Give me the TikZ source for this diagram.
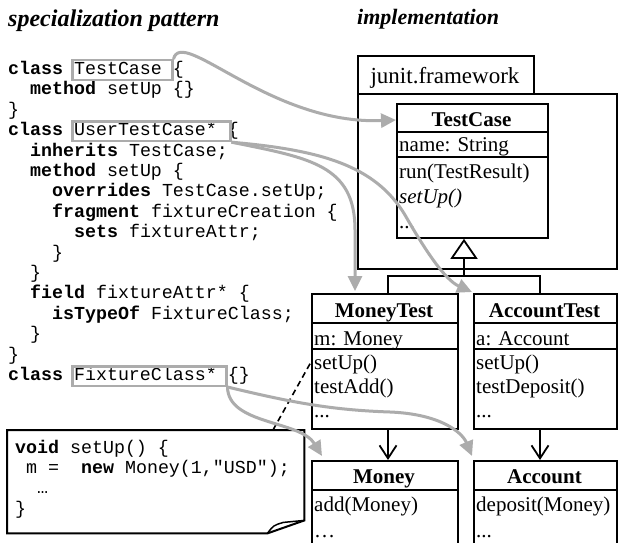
\documentclass[tikz,border=0pt]{standalone}
\usepackage{fontspec}
\setmainfont{Liberation Serif}
\setmonofont{Liberation Mono}
\usetikzlibrary{arrows.meta,calc}
\definecolor{lgray}{RGB}{172,172,172}
\begin{document}
\begin{tikzpicture}[x=1pt,y=-1pt,
  code/.style={anchor=base west,inner sep=0pt,font=\ttfamily\fontsize{18.3}{20}\selectfont},
  ttl/.style={anchor=base west,inner sep=0pt,font=\fontsize{24}{26}\selectfont\bfseries\itshape},
  umlbox/.style={draw,line width=1.8pt,inner sep=0pt,anchor=north west,fill=white},
  umlline/.style={line width=1.8pt},
  ut/.style={inner sep=0pt,anchor=base west,font=\fontsize{21}{23}\selectfont},
  uh/.style={inner sep=0pt,anchor=base,font=\fontsize{21}{23}\selectfont\bfseries},
  gbox/.style={draw=lgray,line width=2.5pt,inner sep=0pt,anchor=north west,minimum height=19.5pt},
  garrow/.style={draw=lgray,line width=3pt,-{Triangle[length=15pt,width=14pt]}},
]
\clip (0,0) rectangle (618,543);
\fill[white] (0,0) rectangle (618,543);

% titles
\node[ttl] (t1) at (8,27) {specialization pattern};
\node[ttl,font=\fontsize{22}{24}\selectfont\bfseries\itshape] (t2) at (357,25) {implementation};

% code
\node[code] (l0) at (8,74.5) {\textbf{class} TestCase \{};
\node[code] (l1) at (30,94.9) {\textbf{method} setUp \{\}};
\node[code] (l2) at (8,115.3) {\}};
\node[code] (l3) at (8,135.7) {\textbf{class} UserTestCase* \{};
\node[code] (l4) at (30,156.1) {\textbf{inherits} TestCase;};
\node[code] (l5) at (30,176.5) {\textbf{method} setUp \{};
\node[code] (l6) at (52,196.9) {\textbf{overrides} TestCase.setUp;};
\node[code] (l7) at (52,217.3) {\textbf{fragment} fixtureCreation \{};
\node[code] (l8) at (74,237.7) {\textbf{sets} fixtureAttr;};
\node[code] (l9) at (52,258.1) {\}};
\node[code] (l10) at (30,278.5) {\}};
\node[code] (l11) at (30,298.9) {\textbf{field} fixtureAttr* \{};
\node[code] (l12) at (52,319.3) {\textbf{isTypeOf} FixtureClass;};
\node[code] (l13) at (30,339.7) {\}};
\node[code] (l14) at (8,360.1) {\}};
\node[code] (l15) at (8,380.5) {\textbf{class} FixtureClass* \{\}};

% gray highlight boxes
\node[gbox,minimum width=100pt] (tcb) at (71,59) {};
\node[gbox,minimum width=158pt] (utcb) at (71,120.2) {};
\node[gbox,minimum width=154pt] (fcb) at (71,365) {};

% package
\node[umlbox,minimum width=176pt,minimum height=38pt] (pkgtab) at (357,55) {};
\node[umlbox,minimum width=259pt,minimum height=175pt] (pkg) at (357,93) {};
\node[inner sep=0pt,anchor=base,font=\fontsize{23}{25}\selectfont] (pkgname) at (445,84) {junit.framework};

% TestCase
\node[umlbox,minimum width=151pt,minimum height=134pt] (tc) at (396,103) {};
\draw[umlline] ($(tc.north west)+(0,29)$) -- ($(tc.north east)+(0,29)$);
\draw[umlline] ($(tc.north west)+(0,54)$) -- ($(tc.north east)+(0,54)$);
\node[uh] (tcn) at (471.5,126) {TestCase};
\node[ut] (tca) at (399,151) {name: String};
\node[ut] (tcm1) at (399,178) {run(TestResult)};
\node[ut] (tcm2) at (399,203) {\itshape setUp()};
\node[ut] (tcm3) at (399,228) {...};

% MoneyTest
\node[umlbox,minimum width=146pt,minimum height=135pt] (mt) at (311,293) {};
\draw[umlline] ($(mt.north west)+(0,30)$) -- ($(mt.north east)+(0,30)$);
\draw[umlline] ($(mt.north west)+(0,56)$) -- ($(mt.north east)+(0,56)$);
\node[uh] (mtn) at (384,317) {MoneyTest};
\node[ut] (mta) at (314,345) {m: Money};
\node[ut] (mtm1) at (314,369) {setUp()};
\node[ut] (mtm2) at (314,393) {testAdd()};
\node[ut] (mtm3) at (314,417) {...};

% AccountTest
\node[umlbox,minimum width=143pt,minimum height=135pt] (at) at (473,293) {};
\draw[umlline] ($(at.north west)+(0,30)$) -- ($(at.north east)+(0,30)$);
\draw[umlline] ($(at.north west)+(0,56)$) -- ($(at.north east)+(0,56)$);
\node[uh] (atn) at (544.5,317) {AccountTest};
\node[ut] (ata) at (476,345) {a: Account};
\node[ut] (atm1) at (476,369) {setUp()};
\node[ut] (atm2) at (476,393) {testDeposit()};
\node[ut] (atm3) at (476,417) {...};

% Money
\node[umlbox,minimum width=146pt,minimum height=100pt] (money) at (311,460) {};
\draw[umlline] ($(money.north west)+(0,30)$) -- ($(money.north east)+(0,30)$);
\node[uh] (mon) at (384,483) {Money};
\node[ut] (mom1) at (314,511) {add(Money)};
\node[ut] (mom2) at (314,537) {…};

% Account
\node[umlbox,minimum width=143pt,minimum height=100pt] (acc) at (473,460) {};
\draw[umlline] ($(acc.north west)+(0,30)$) -- ($(acc.north east)+(0,30)$);
\node[uh] (acn) at (544.5,483) {Account};
\node[ut] (acm1) at (476,511) {deposit(Money)};
\node[ut] (acm2) at (476,537) {...};

% inheritance
\coordinate (inhj) at (464,276);
\draw[umlline] ($(mt.north west)+(77,0)$) |- (inhj);
\draw[umlline] ($(at.north west)+(67,0)$) |- (inhj);
\draw[umlline,-{Triangle[open,length=20pt,width=27pt]}] (inhj) -- (inhj |- tc.south);

% associations
\draw[umlline,-{Straight Barb[length=13pt,width=17pt]}] ($(mt.south west)+(77,0)$) -- ($(money.north west)+(77,0)$);
\draw[umlline,-{Straight Barb[length=13pt,width=17pt]}] ($(at.south west)+(67,0)$) -- ($(acc.north west)+(67,0)$);

% note
\node[inner sep=0pt,minimum width=297pt,minimum height=103pt,anchor=north west] (note) at (7,430) {};
\draw[line width=2pt,fill=white] (note.north west) -- (note.north east) -- ($(note.south east)+(0,-13)$) -- ($(note.south east)+(-37,0)$) -- (note.south west) -- cycle;
\draw[line width=1.5pt] ($(note.south east)+(-37,0)$) .. controls ($(note.south east)+(-31,-8)$) .. ($(note.south east)+(-21,-11)$) -- ($(note.south east)+(0,-13)$);
\node[code] (n0) at (15,453) {\textbf{void} setUp() \{};
\node[code] (n1) at (26,473.4) {m =\hspace{22pt}\textbf{new} Money(1,"USD");};
\node[code] (n2) at (37,493.8) {…};
\node[code] (n3) at (15,514.2) {\}};
\draw[line width=1.6pt,dash pattern=on 6pt off 4pt] ($(note.north west)+(266,0)$) -- ($(mt.north west)+(0,69)$);

% gray arrows
\draw[garrow] (tcb.north east) .. controls (182,26) and (270,125) .. ($(tc.north west)+(0,17)$);
\draw[garrow] (utcb.south east) .. controls (310,158) and (355,165) .. (355,230) -- ($(mt.north west)+(44,-2)$);
\draw[garrow] (utcb.south east) .. controls (320,150) and (375,165) .. (405,215) .. controls (425,250) and (445,280) .. ($(at.north west)+(-1,-1)$);
\draw[garrow] (fcb.south east) .. controls (228,425) and (300,420) .. ($(money.north west)+(11,-4)$);
\draw[garrow] (fcb.south east) .. controls (290,402) and (330,410) .. (390,412) .. controls (440,414) and (462,432) .. ($(acc.north west)+(-1,-4)$);
\end{tikzpicture}
\end{document}
